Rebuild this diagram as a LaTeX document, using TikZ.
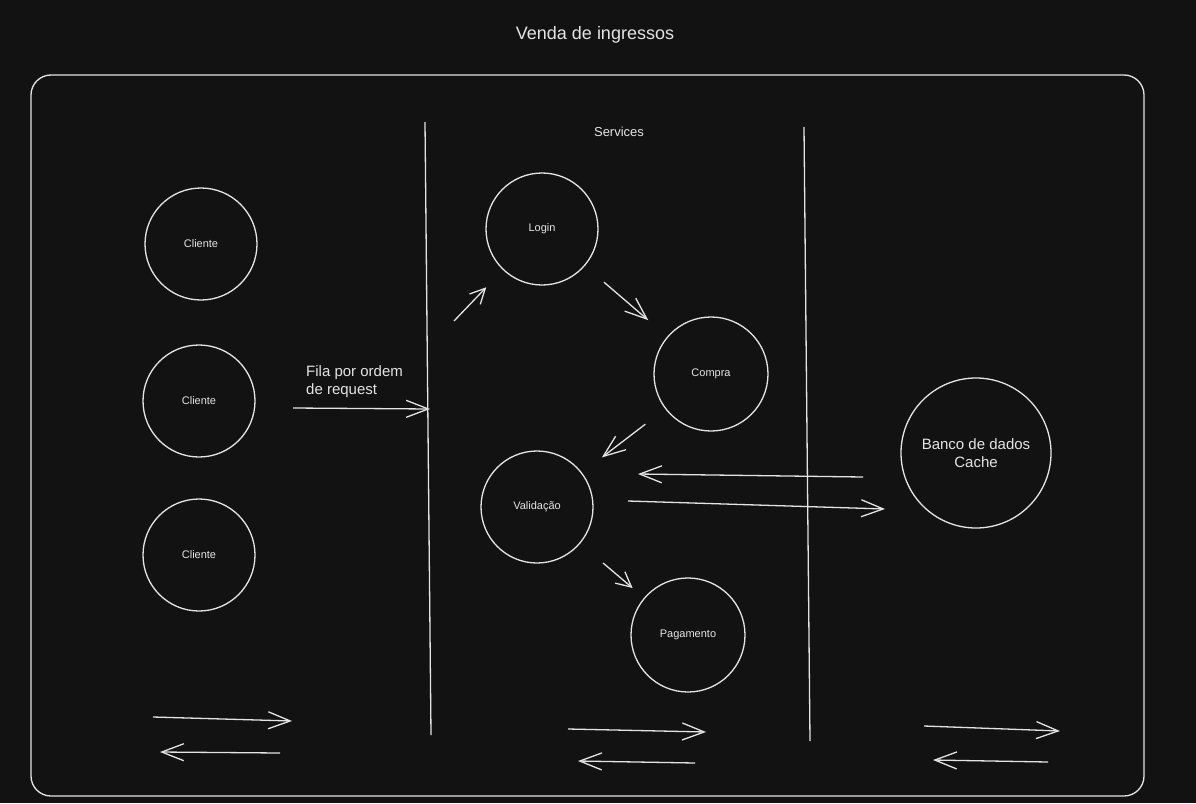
\documentclass[tikz,border=0pt]{standalone}
\usepackage{fontspec}
\setmainfont{Liberation Sans}
\usetikzlibrary{arrows.meta}
\definecolor{board}{HTML}{121212}
\definecolor{chalk}{HTML}{E4E4E4}
\tikzset{circ/.style=
   {circle,
    draw=chalk,
    line width=1.3pt,
    text=chalk,
    font=\fontsize{11}{13}\selectfont,
    minimum size=112pt,
    inner sep=0pt}}
\tikzset{label/.style = {text=chalk, inner sep=0pt}}
\tikzset{wall/.style = {draw=chalk, line width=1.3pt}}
\tikzset{arrow/.style = {draw=chalk, line width=1.3pt,
    -{Straight Barb[length=22pt,width=17pt]}}}
\tikzset{shortarrow/.style = {arrow,
    -{Straight Barb[length=15pt,width=15pt]}}}

\begin{document}
\begin{tikzpicture}[x=1pt, y=-1pt]

    % Board
    \fill [board] (0,0) rectangle (1196,803);
    \useasboundingbox (0,0) rectangle (1196,803);
    \draw [wall, rounded corners=20pt] (31,75) rectangle (1144,796);
    \draw [wall] (425,122) -- (431,735);
    \draw [wall] (804,127) -- (810,741);

    % Texts
    \node [label, font=\fontsize{18}{22}\selectfont] (title) at (595,35) {Venda de ingressos};
    \node [label, font=\fontsize{13}{16}\selectfont] (services) at (619,132) {Services};
    \node [label, anchor=west, align=left, font=\fontsize{15}{18}\selectfont]
        (fila) at (306,382) {Fila por ordem\\de request};

    % Blocks
    \node [circ] (cliente1) at (201,244) {Cliente};
    \node [circ] (cliente2) at (199,401) {Cliente};
    \node [circ] (cliente3) at (199,555) {Cliente};
    \node [circ] (login) at (542,229) {Login};
    \node [circ, minimum size=114pt] (compra) at (711,374) {Compra};
    \node [circ] (validacao) at (537,507) {Validação};
    \node [circ, minimum size=114pt] (pagamento) at (688,635) {Pagamento};
    \node [circ, minimum size=150pt, align=center, font=\fontsize{15}{18}\selectfont]
        (banco) at (976,453) {Banco de dados\\Cache};

    % Free ends
    \coordinate (filaStart) at (293,408);
    \coordinate (filaEnd) at (430,409);
    \coordinate (loginIn) at (454,321);
    \coordinate (cacheOut) at (863,477);
    \coordinate (cacheBack) at (638,474);
    \coordinate (validOut) at (628,501);
    \coordinate (cacheIn) at (885,509);
    \coordinate (leftGo) at (153,717);
    \coordinate (leftGoEnd) at (292,721);
    \coordinate (leftBack) at (280,753);
    \coordinate (leftBackEnd) at (160,752);
    \coordinate (midGo) at (568,729);
    \coordinate (midGoEnd) at (706,732);
    \coordinate (midBack) at (695,763);
    \coordinate (midBackEnd) at (578,761);
    \coordinate (rightGo) at (924,726);
    \coordinate (rightGoEnd) at (1060,731);
    \coordinate (rightBack) at (1048,762);
    \coordinate (rightBackEnd) at (933,760);

    % Draw edges

    \path [arrow]
    (filaStart) -- (filaEnd);

    \path [shortarrow, shorten >=24pt]
    (loginIn) -- (login);

    \path [arrow, shorten <=25pt, shorten >=25pt]
    (login) -- (compra);

    \path [arrow, shorten <=25pt, shorten >=25pt]
    (compra) -- (validacao);

    \path [shortarrow, shorten <=30pt, shorten >=15pt]
    (validacao) -- (pagamento);

    \path [arrow]
    (cacheOut) -- (cacheBack);

    \path [arrow]
    (validOut) -- (cacheIn);

    \path [arrow] (leftGo) -- (leftGoEnd);
    \path [arrow] (leftBack) -- (leftBackEnd);
    \path [arrow] (midGo) -- (midGoEnd);
    \path [arrow] (midBack) -- (midBackEnd);
    \path [arrow] (rightGo) -- (rightGoEnd);
    \path [arrow] (rightBack) -- (rightBackEnd);

\end{tikzpicture}
\end{document}
